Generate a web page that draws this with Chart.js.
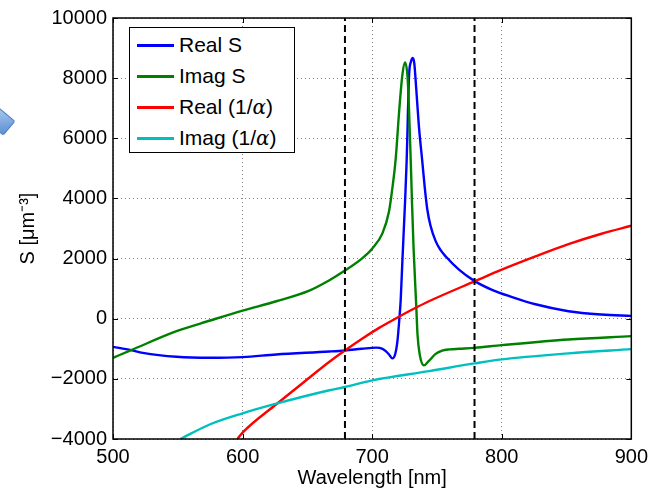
<!DOCTYPE html>
<html>
<head>
<meta charset="utf-8">
<script src="https://cdn.jsdelivr.net/npm/chart.js@4.4.0/dist/chart.umd.min.js"></script>
<style>
  body { margin: 0; background: #fff; }
  #wrap { position: relative; width: 654px; height: 493px; overflow: hidden; }
  #legend {
    position: absolute; left: 129px; top: 27px; width: 164px; height: 124px;
    border: 1.5px solid #000; background: #fff;
    font-family: 'Liberation Sans', Helvetica, Arial, sans-serif; font-size: 21px;
  }
  #legend .row { position: absolute; left: 0; height: 24px; line-height: 24px; white-space: nowrap; }
  #legend .swatch { position: absolute; left: 7px; top: 11px; width: 37px; height: 2.5px; }
  #legend .lbl { position: absolute; left: 49px; top: 0; }
  #blob {
    position: absolute; left: -10px; top: 112px; width: 20px; height: 17px;
    background: linear-gradient(135deg, #a9c8ee, #5b8fd3);
    border: 1px solid #4a7cc0; border-radius: 2px; transform: rotate(40deg);
  }
</style>
</head>
<body>
<div id="wrap">
  <canvas id="chart" width="654" height="493"></canvas>
  <div id="legend"></div>
  <div id="blob"></div>
</div>
<script>
// Real S
const realSWl = [500, 514, 523, 549, 575, 600, 626, 667, 679, 692, 703, 708, 710.5, 713, 715.6, 717.7, 719.5, 721, 722, 723.3, 725.4, 726.6, 728.5, 730, 731.3, 732.5, 734, 736, 738.7, 740.5, 742.5, 745, 749, 753, 757, 767, 778.5, 792.5, 808, 826, 851.5, 877, 900];
const realSVal = [-935, -1045, -1134, -1267, -1300, -1277, -1188, -1090, -1055, -1000, -960, -1000, -1078, -1190, -1320, -1190, -746, 0, 600, 1900, 3900, 5224, 8100, 8550, 8673, 8500, 7655, 6440, 5224, 4400, 3650, 3100, 2580, 2270, 2060, 1632, 1267, 960, 720, 480, 250, 140, 93];

// Imag S
const imagSWl = [500, 514, 549, 575, 600, 626, 651.5, 667, 679, 692.5, 700, 708, 713, 715.6, 718.2, 720.8, 723.3, 725.4, 727.4, 728.5, 729.8, 730.8, 732, 734, 735, 736.7, 740, 743.6, 749, 754, 760, 767, 779, 800, 851.5, 900];
const imagSVal = [-1300, -1045, -415, -60, 270, 580, 935, 1280, 1600, 2017, 2328, 2846, 3566, 4340, 5333, 6882, 8100, 8518, 7987, 6882, 5224, 3800, 2300, 450, -525, -1190, -1553, -1410, -1170, -1060, -1020, -1000, -968, -880, -690, -580];

// Real (1/alpha)
const realAWl = [596, 600, 626, 651.5, 667, 679, 692.5, 705.4, 718.2, 731, 743.8, 779.7, 800, 826, 851.5, 877, 900];
const realAVal = [-4000, -3787, -2846, -1963, -1430, -1055, -657, -305, 7, 305, 580, 1255, 1632, 2073, 2481, 2826, 3091];

// Imag (1/alpha)
const imagAWl = [552, 575, 600, 626, 667, 679, 700, 744, 779, 800, 851.5, 900];
const imagAVal = [-4000, -3510, -3145, -2825, -2380, -2270, -2050, -1741, -1487, -1353, -1154, -1012];

// dashed markers
const dashX = [679, 779];

const xTicks = [500, 600, 700, 800, 900];
const yTicks = [-4000, -2000, 0, 2000, 4000, 6000, 8000, 10000];

const FONT = "'Liberation Sans', Helvetica, Arial, sans-serif";

const toPts = (xs, ys) => xs.map((x, i) => ({ x: x, y: ys[i] }));

const series = [
  { label: 'Real S', color: '#0000ff', data: toPts(realSWl, realSVal), order: 4 },
  { label: 'Imag S', color: '#008000', data: toPts(imagSWl, imagSVal), order: 3 },
  { label: 'Real (1/\u03b1)', color: '#ff0000', data: toPts(realAWl, realAVal), order: 2 },
  { label: 'Imag (1/\u03b1)', color: '#00bfbf', data: toPts(imagAWl, imagAVal), order: 1 },
];

const datasets = series.map((s) => ({
  label: s.label,
  data: s.data,
  borderColor: s.color,
  borderWidth: 2.4,
  pointRadius: 0,
  cubicInterpolationMode: 'monotone',
  order: s.order,
}));

dashX.forEach((x) => {
  datasets.push({
    label: 'marker',
    data: [{ x: x, y: yTicks[0] }, { x: x, y: yTicks[yTicks.length - 1] }],
    borderColor: '#000',
    borderWidth: 2,
    borderDash: [7, 4],
    pointRadius: 0,
    order: 0,
  });
});

// legend box inside the axes
const legendEl = document.getElementById('legend');
series.forEach((s, i) => {
  const row = document.createElement('div');
  row.className = 'row';
  row.style.top = (5 + i * 31) + 'px';
  row.innerHTML = '<span class="swatch" style="background:' + s.color + '"></span><span class="lbl">' + s.label.replace('\u03b1', '<i style="font-family:\'DejaVu Serif\',serif;font-size:20px">\u03b1</i>') + '</span>';
  legendEl.appendChild(row);
});

// axes box and inward tick marks, matlab style
const boxPlugin = {
  id: 'box',
  afterDraw(chart) {
    const { ctx, chartArea: a, scales } = chart;
    ctx.save();
    ctx.strokeStyle = '#000';
    ctx.lineWidth = 1;
    const len = 5;
    xTicks.forEach((v) => {
      const px = Math.round(scales.x.getPixelForValue(v)) + 0.5;
      ctx.beginPath();
      ctx.moveTo(px, a.bottom); ctx.lineTo(px, a.bottom - len);
      ctx.moveTo(px, a.top); ctx.lineTo(px, a.top + len);
      ctx.stroke();
    });
    yTicks.forEach((v) => {
      const py = Math.round(scales.y.getPixelForValue(v)) + 0.5;
      ctx.beginPath();
      ctx.moveTo(a.left, py); ctx.lineTo(a.left + len, py);
      ctx.moveTo(a.right, py); ctx.lineTo(a.right - len, py);
      ctx.stroke();
    });
    ctx.lineWidth = 1.5;
    ctx.strokeRect(a.left, a.top, a.right - a.left, a.bottom - a.top);
    ctx.restore();
  }
};

const fmt = (v) => (v < 0 ? '\u2212' + Math.abs(v) : String(v));

new Chart(document.getElementById('chart'), {
  type: 'line',
  data: { datasets: datasets },
  options: {
    responsive: false,
    animation: false,
    devicePixelRatio: 1,
    layout: { padding: { top: 16, right: 20, left: 0, bottom: 0 } },
    plugins: {
      legend: { display: false },
      tooltip: { enabled: false },
    },
    scales: {
      x: {
        type: 'linear',
        min: 500,
        max: 900,
        afterFit: (scale) => { scale.height = 54; },
        afterBuildTicks: (scale) => { scale.ticks = xTicks.map((v) => ({ value: v })); },
        ticks: {
          color: '#000',
          font: { family: FONT, size: 20 },
          padding: 6,
          maxRotation: 0,
          callback: fmt,
        },
        grid: { color: 'rgba(0,0,0,0.5)', lineWidth: 1, drawTicks: false },
        border: { display: false, dash: [1, 3] },
        title: {
          display: true,
          text: 'Wavelength [nm]',
          color: '#000',
          font: { family: FONT, size: 20 },
          padding: { top: 0, bottom: 3 },
        },
      },
      y: {
        type: 'linear',
        min: -4000,
        max: 10000,
        afterFit: (scale) => { scale.width = 113; },
        afterBuildTicks: (scale) => { scale.ticks = yTicks.map((v) => ({ value: v })); },
        ticks: {
          color: '#000',
          font: { family: FONT, size: 20 },
          padding: 6,
          callback: fmt,
        },
        grid: { color: 'rgba(0,0,0,0.5)', lineWidth: 1, drawTicks: false },
        border: { display: false, dash: [1, 3] },
        title: {
          display: true,
          text: 'S [\u03bcm\u207b\u00b3]',
          color: '#000',
          font: { family: FONT, size: 20 },
          padding: { top: 16, bottom: 0 },
        },
      },
    },
  },
  plugins: [boxPlugin],
});
</script>
</body>
</html>
